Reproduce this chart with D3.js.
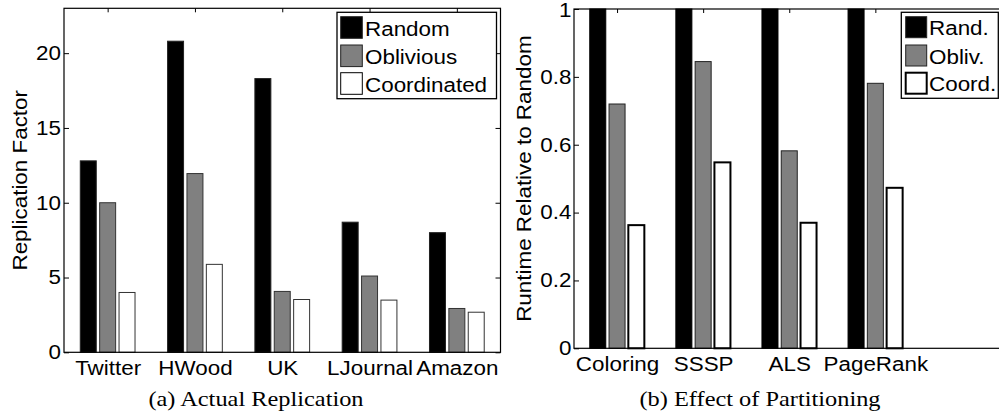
<!DOCTYPE html>
<html><head><meta charset="utf-8">
<script src="https://cdn.jsdelivr.net/npm/d3@7"></script>
<style>
body{margin:0;background:#fff;}
svg{display:block;}
text{font-family:"Liberation Sans",Arial,Helvetica,sans-serif;font-size:20px;fill:#000;}
text.cap{font-family:"Liberation Serif","Times New Roman",serif;font-size:21px;}
</style></head><body>
<svg id="c" width="999" height="416"></svg>
<script>
// ---- Panel (a) data ----
const seriesA = ["Random", "Oblivious", "Coordinated"];
const categoriesA = ["Twitter", "HWood", "UK", "LJournal", "Amazon"];
const randomA = [12.8, 20.8, 18.3, 8.7, 8.0];
const obliviousA = [10.0, 11.95, 4.07, 5.1, 2.93];
const coordinatedA = [4.0, 5.88, 3.53, 3.49, 2.68];
const yTicksA = [0, 5, 10, 15, 20];
const yLabelA = "Replication Factor";
const captionA = "(a) Actual Replication";

// ---- Panel (b) data ----
const seriesB = ["Rand.", "Obliv.", "Coord."];
const categoriesB = ["Coloring", "SSSP", "ALS", "PageRank"];
const randomB = [1, 1, 1, 1];
const obliviousB = [0.72, 0.845, 0.582, 0.781];
const coordinatedB = [0.363, 0.548, 0.37, 0.473];
const yTicksB = [0, 0.2, 0.4, 0.6, 0.8, 1];
const yTickLabelsB = ["0", "0.2", "0.4", "0.6", "0.8", "1"];
const yLabelB = "Runtime Relative to Random";
const captionB = "(b) Effect of Partitioning";

const fills = ["#000000", "#808080", "#ffffff"];

const svg = d3.select("#c");

function panel(cfg) {
  const g = svg.append("g");
  const x = d3.scaleLinear().domain([0.5, 5.5]).range([cfg.left, cfg.right]);
  const y = d3.scaleLinear().domain([0, cfg.ymax]).range([cfg.bottom, cfg.top]);
  const idx = cfg.categories.map((d, i) => i + 1);

  // ticks (inward, MATLAB style)
  const axL = d3.axisLeft(y).tickValues(cfg.yTicks).tickSizeInner(-5).tickSizeOuter(0).tickPadding(cfg.yPad)
    .tickFormat((d, i) => cfg.yTickLabels ? cfg.yTickLabels[i] : d3.format("d")(d));
  const axR = d3.axisRight(y).tickValues(cfg.yTicks).tickSizeInner(-5).tickSizeOuter(0).tickFormat("");
  const axT = d3.axisTop(x).tickValues(idx).tickSizeInner(-4).tickSizeOuter(0).tickFormat("");
  const axB = d3.axisBottom(x).tickValues(idx).tickSizeInner(-4).tickSizeOuter(0).tickPadding(cfg.xPad)
    .tickFormat((d, i) => cfg.categories[i]);

  const gl = g.append("g").attr("transform", `translate(${cfg.left},0)`).call(axL);
  const gr = g.append("g").attr("transform", `translate(${cfg.right},0)`).call(axR);
  const gt = g.append("g").attr("transform", `translate(0,${cfg.top})`).call(axT);
  const gb = g.append("g").attr("transform", `translate(0,${cfg.bottom})`).call(axB);
  [gl, gr, gt, gb].forEach(a => {
    a.select(".domain").remove();
    a.selectAll("line").attr("stroke", "#000").attr("stroke-width", 1);
    a.selectAll("text").attr("font-family", null).attr("font-size", null).attr("fill", "#000");
    a.attr("font-family", null).attr("font-size", null);
  });
  // keep the topmost tick label just inside the picture
  gl.selectAll(".tick text").filter(d => d === cfg.ymax && cfg.top < 10).attr("dy", "0.36em");

  // bars
  const w = cfg.barW, off = cfg.barStep;
  cfg.values.forEach((vals, s) => {
    g.append("g").selectAll("rect").data(vals).join("rect")
      .attr("x", (d, i) => x(i + 1 + (s - 1) * off - w / 2))
      .attr("width", x(1 + w) - x(1))
      .attr("y", d => y(Math.min(d, cfg.ymax)))
      .attr("height", d => y(0) - y(Math.min(d, cfg.ymax)))
      .attr("fill", fills[s])
      .attr("stroke", cfg.strokes[s])
      .attr("stroke-width", cfg.strokeW[s]);
  });

  // frame
  g.append("rect").attr("x", cfg.left).attr("y", cfg.top)
    .attr("width", cfg.right - cfg.left).attr("height", cfg.bottom - cfg.top)
    .attr("fill", "none").attr("stroke", "#000").attr("stroke-width", 1.2);

  // legend
  const L = cfg.legend;
  g.append("rect").attr("x", L.x0).attr("y", L.y0).attr("width", L.x1 - L.x0).attr("height", L.y1 - L.y0)
    .attr("fill", "#fff").attr("stroke", "#000").attr("stroke-width", 1.3);
  cfg.series.forEach((name, s) => {
    g.append("rect").attr("x", L.sx).attr("y", L.rows[s]).attr("width", L.sw).attr("height", L.sw)
      .attr("fill", fills[s]).attr("stroke", s === 2 ? "#000" : "#222")
      .attr("stroke-width", cfg.strokeW[s]);
    g.append("text").attr("x", L.tx).attr("y", L.rows[s] + L.sw - 2.5).text(name);
  });

  // y label
  g.append("text").attr("transform", `translate(${cfg.ylabX},${(cfg.top + cfg.bottom) / 2}) rotate(-90)`)
    .attr("text-anchor", "middle").text(cfg.ylabel);
  // caption
  g.append("text").attr("class", "cap").attr("x", cfg.capX).attr("y", 406)
    .attr("text-anchor", "middle").text(cfg.caption);
}

panel({
  left: 64, right: 500.5, top: 8.3, bottom: 352.3, ymax: 23,
  categories: categoriesA, series: seriesA, values: [randomA, obliviousA, coordinatedA],
  yTicks: yTicksA, yPad: 3, xPad: 9,
  barW: 0.183, barStep: 0.222,
  strokes: ["#222", "#333", "#333"], strokeW: [1, 1, 1],
  legend: { x0: 337, x1: 496.5, y0: 12.3, y1: 98.7, sx: 340.7, sw: 21.6, tx: 365, rows: [16.7, 45, 72.7] },
  ylabel: yLabelA, ylabX: 27, caption: captionA, capX: 256
});

panel({
  left: 574, right: 1004.5, top: 9, bottom: 348.3, ymax: 1,
  categories: categoriesB, series: seriesB, values: [randomB, obliviousB, coordinatedB],
  yTicks: yTicksB, yTickLabels: yTickLabelsB, yPad: 2.5, xPad: 8.5,
  barW: 0.186, barStep: 0.224,
  strokes: ["#000", "#222", "#000"], strokeW: [1, 1, 2],
  legend: { x0: 901.3, x1: 998.3, y0: 12.3, y1: 98.3, sx: 905.7, sw: 21, tx: 929, rows: [16.7, 45, 72.7] },
  ylabel: yLabelB, ylabX: 531, caption: captionB, capX: 760
});

// the reference glyphs are somewhat wider than the installed metric-compatible fonts
svg.selectAll("text").each(function () {
  const t = d3.select(this);
  if (!t.text()) return;
  const f = t.classed("cap") ? 1.16 : 1.12;
  const len = this.getComputedTextLength();
  t.attr("textLength", len * f).attr("lengthAdjust", "spacingAndGlyphs");
});
</script>
</body></html>
